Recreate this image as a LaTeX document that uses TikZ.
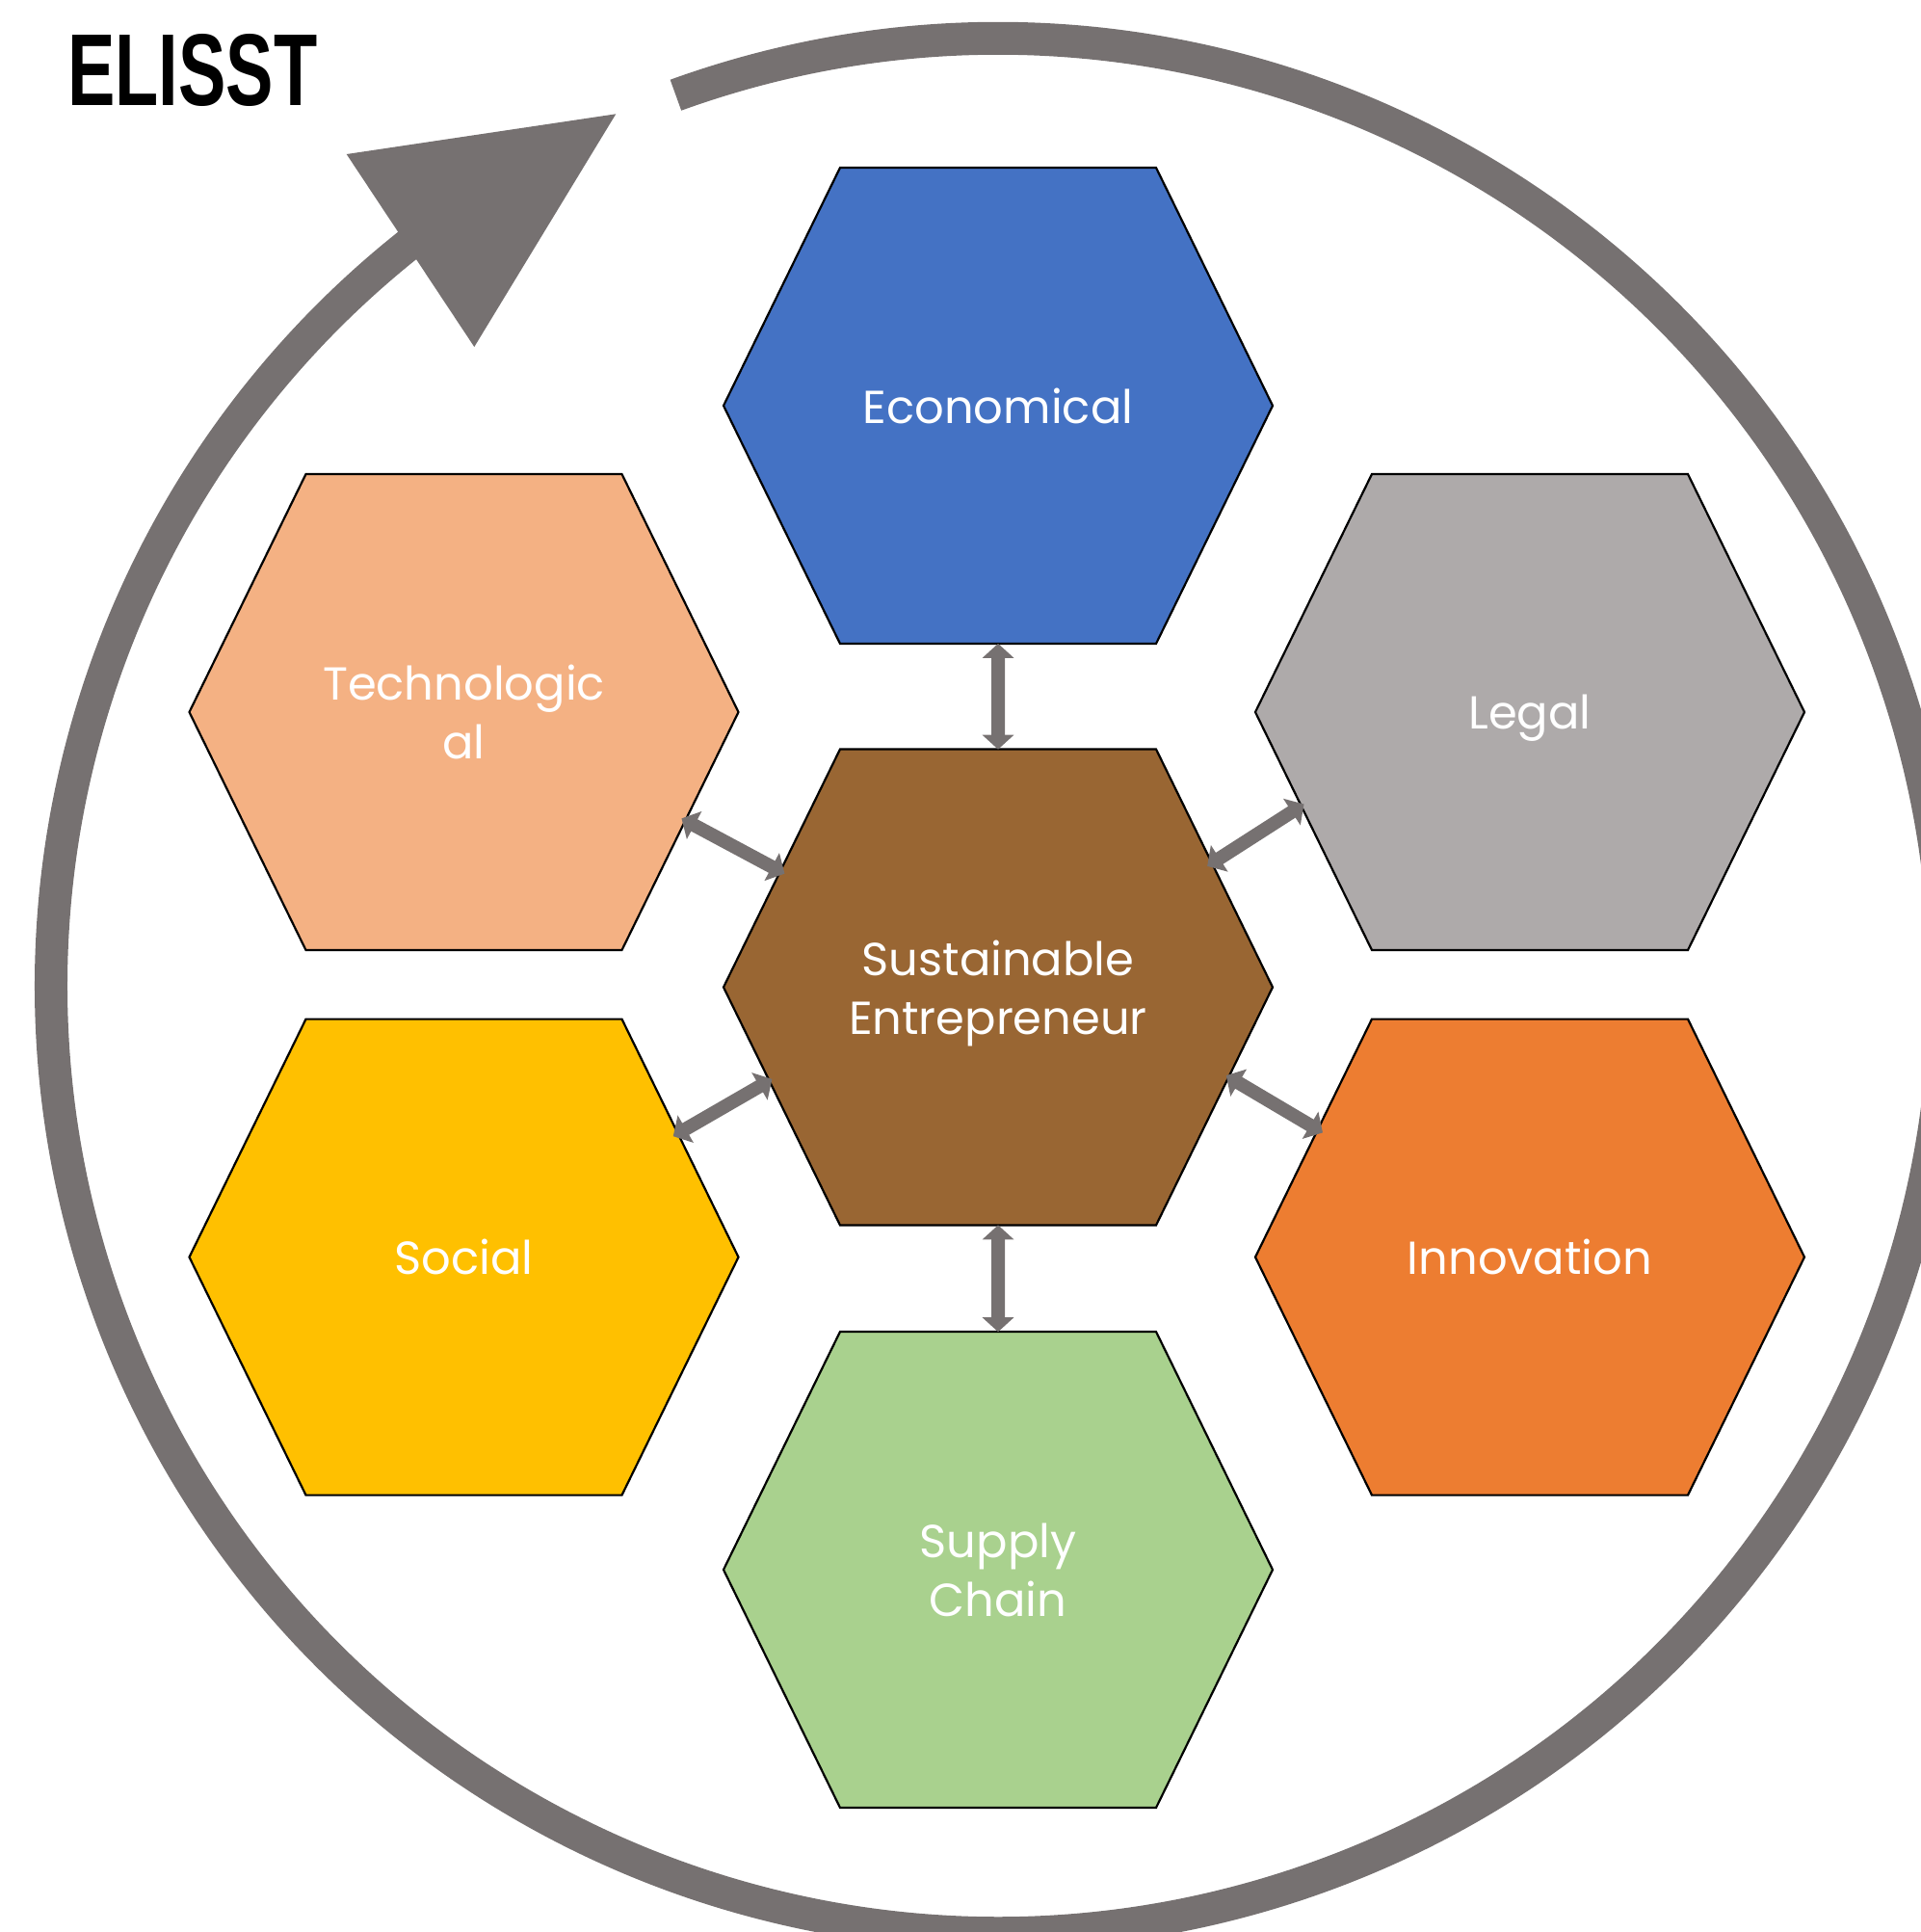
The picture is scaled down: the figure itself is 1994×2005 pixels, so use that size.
\documentclass[tikz,border=0pt]{standalone}
\usepackage{fontspec}
\usepackage{graphicx}
\setmainfont{Poppins}
\newfontfamily\titlefont{Liberation Sans}
\usetikzlibrary{arrows.meta,shapes.geometric}
\definecolor{ringgray}{HTML}{767171}
\definecolor{econcol}{HTML}{4472C4}
\definecolor{techcol}{HTML}{F4B183}
\definecolor{legalcol}{HTML}{AEAAAA}
\definecolor{sustcol}{HTML}{996633}
\definecolor{socialcol}{HTML}{FFC000}
\definecolor{innovcol}{HTML}{ED7D31}
\definecolor{supplycol}{HTML}{A9D18E}
\tikzset{
  pics/hexa/.style={code={\filldraw[fill=#1,draw=black,line width=2.2pt,line join=miter]
     (-285,0) -- (-164,247) -- (164,247) -- (285,0) -- (164,-247) -- (-164,-247) -- cycle;}},
  hexnode/.style={regular polygon, regular polygon sides=6, minimum size=570pt,
     inner sep=0pt, outer sep=0pt, text=white, align=center, text depth=0pt,
     font=\fontsize{48}{61}\selectfont},
  conn/.style={draw=ringgray, line width=14pt,
     {Triangle[width=32pt,length=15pt]}-{Triangle[width=32pt,length=15pt]}},
  diag/.style={conn, shorten <=4pt, shorten >=4pt},
  ring/.style={draw=ringgray, line width=34pt, line cap=butt}
}
\begin{document}
\begin{tikzpicture}[x=1pt,y=1pt]
\useasboundingbox (0,0) rectangle (1994,-2005);
\clip (0,0) rectangle (1994,-2005);
% outer cycle ring with arrowhead
\coordinate (c) at (1036,-1023);
\draw[ring] (c) ++(109.9:983) arc[start angle=109.9, end angle=-232.3, radius=983];
\coordinate (h1) at (359.7,-160);
\coordinate (h2) at (639.3,-118.3);
\coordinate (h3) at (492.3,-360);
\fill[ringgray] (h1) -- (h2) -- (h3) -- cycle;
% title
\node[inner sep=0pt, anchor=north west] (title) at (70,-35)
  {\resizebox{259pt}{74pt}{\titlefont\bfseries ELISST}};
% hexagons
\pic at (1036,-421) {hexa=econcol};
\node[hexnode] (econ) at (1036,-421) {Economical};
\pic at (481.5,-739) {hexa=techcol};
\node[hexnode] (tech) at (481.5,-739) {Technologic\\al};
\pic at (1588,-739) {hexa=legalcol};
\node[hexnode] (legal) at (1588,-739) {Legal};
\pic at (1036,-1024.5) {hexa=sustcol};
\node[hexnode] (sust) at (1036,-1024.5) {Sustainable\\Entrepreneur};
\pic at (481.5,-1304.6) {hexa=socialcol};
\node[hexnode] (social) at (481.5,-1304.6) {Social};
\pic at (1588,-1304.6) {hexa=innovcol};
\node[hexnode] (innov) at (1588,-1304.6) {Innovation};
\pic at (1036,-1629) {hexa=supplycol};
\node[hexnode] (supply) at (1036,-1629) {Supply\\Chain};
% connectors
\draw[conn] (econ) -- (sust);
\draw[conn] (sust) -- (supply);
\draw[diag] (tech.-26) -- (sust.152.7);
\draw[diag] (legal.202.8) -- (sust.30.5);
\draw[diag] (social.30) -- (sust.202.4);
\draw[diag] (innov.149) -- (sust.-21.8);
\end{tikzpicture}
\end{document}
